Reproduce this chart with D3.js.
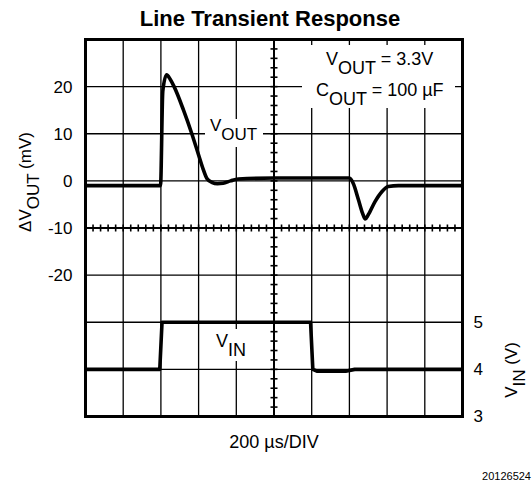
<!DOCTYPE html>
<html>
<head>
<meta charset="utf-8">
<script src="https://cdn.jsdelivr.net/npm/d3@7"></script>
<style>
  body { margin: 0; background: #fff; }
  svg { display: block; font-family: "Liberation Sans", Arial, sans-serif; }
</style>
</head>
<body>
<svg id="chart" width="532" height="483"></svg>
<script>
var voutX = [0, 1.99, 2.05, 2.15, 2.25, 2.35, 2.6, 2.82, 3.0, 3.12, 3.22, 3.35, 3.5, 3.65, 3.85, 4.05, 5.0, 7.0, 7.1, 7.24, 7.35, 7.42, 7.5, 7.68, 7.86, 8.03, 8.3, 10];
var voutY = [-1.0, -1.0, 19, 22.5, 21.5, 20, 15, 10, 5.5, 2.5, 0.5, -0.3, -0.6, -0.5, 0, 0.4, 0.6, 0.6, -0.5, -4, -6.9, -8.1, -7.2, -4.4, -2.3, -1.2, -1.0, -1.0];
var vinX = [0, 1.97, 2.03, 5.97, 6.03, 6.15, 6.9, 7.14, 10];
var vinY = [4.0, 4.0, 5.0, 5.0, 4.0, 3.96, 3.96, 4.0, 4.0];
var leftTicks = [-20, -10, 0, 10, 20];
var rightTicks = [3, 4, 5];

var svg = d3.select("#chart");
var L = 85.5, R = 462.5, T = 39.5, B = 416.5;

var x = d3.scaleLinear().domain([0, 10]).range([L, R]);
var yOut = d3.scaleLinear().domain([-50, 30]).range([B, T]);
var yIn = d3.scaleLinear().domain([3, 11]).range([B, T]);

// title
svg.append("text")
  .attr("x", 270).attr("y", 26)
  .attr("text-anchor", "middle")
  .attr("font-size", 22).attr("font-weight", "bold")
  .text("Line Transient Response");

// grid
var grid = svg.append("g").attr("stroke", "#000").attr("stroke-width", 1.3);
grid.selectAll("line.v").data(d3.range(1, 10)).enter().append("line")
  .attr("x1", function(d) { return x(d); }).attr("x2", function(d) { return x(d); })
  .attr("y1", T).attr("y2", B);
grid.selectAll("line.h").data(d3.range(-40, 30, 10)).enter().append("line")
  .attr("y1", function(d) { return yOut(d); }).attr("y2", function(d) { return yOut(d); })
  .attr("x1", L).attr("x2", R);

// center cross with minor ticks
var cx = x(5), cy = yOut(-10);
var cross = svg.append("g").attr("stroke", "#000");
cross.append("line").attr("x1", cx).attr("x2", cx).attr("y1", T).attr("y2", B).attr("stroke-width", 2);
cross.append("line").attr("x1", L).attr("x2", R).attr("y1", cy).attr("y2", cy).attr("stroke-width", 2);
cross.selectAll("line.tx").data(d3.range(1, 50)).enter().append("line")
  .attr("stroke-width", 1.6)
  .attr("x1", function(d) { return x(d / 5); }).attr("x2", function(d) { return x(d / 5); })
  .attr("y1", cy - 3.5).attr("y2", cy + 3.5);
cross.selectAll("line.ty").data(d3.range(1, 40)).enter().append("line")
  .attr("stroke-width", 1.6)
  .attr("y1", function(d) { return yOut(30 - d * 2); }).attr("y2", function(d) { return yOut(30 - d * 2); })
  .attr("x1", cx - 3.5).attr("x2", cx + 3.5);

// labels with white backing, they cut the grid
function label(g, px, py, main, sub, rest, size) {
  var t = g.append("text").attr("x", px).attr("y", py).attr("font-size", size);
  t.append("tspan").text(main);
  t.append("tspan").attr("dy", 9).text(sub);
  if (rest) t.append("tspan").attr("dy", -9).text(rest);
  return t;
}
var lab = svg.append("g");
lab.append("rect").attr("x", 302).attr("y", 45).attr("width", 153).attr("height", 63).attr("fill", "#fff");
lab.append("rect").attr("x", 205).attr("y", 119).attr("width", 58).attr("height", 28).attr("fill", "#fff");
lab.append("rect").attr("x", 212).attr("y", 329).attr("width", 38).attr("height", 32).attr("fill", "#fff");
label(lab, 326, 64.5, "V", "OUT", " = 3.3V", 18);
label(lab, 316, 95.5, "C", "OUT", " = 100 \u00b5F", 18);
label(lab, 210, 131, "V", "OUT", null, 17);
label(lab, 216, 347, "V", "IN", null, 18);

// traces
var line = d3.line().curve(d3.curveMonotoneX);
svg.append("path")
  .attr("d", line(voutX.map(function(d, i) { return [x(d), yOut(voutY[i])]; })))
  .attr("fill", "none").attr("stroke", "#000").attr("stroke-width", 3.6)
  .attr("stroke-linejoin", "round");
svg.append("path")
  .attr("d", d3.line()(vinX.map(function(d, i) { return [x(d), yIn(vinY[i])]; })))
  .attr("fill", "none").attr("stroke", "#000").attr("stroke-width", 3.6)
  .attr("stroke-linejoin", "round");

// frame
svg.append("rect").attr("x", L).attr("y", T).attr("width", R - L).attr("height", B - T)
  .attr("fill", "none").attr("stroke", "#000").attr("stroke-width", 3);

// axes
var ax = svg.append("g").attr("transform", "translate(" + (L - 10) + ",0)")
  .call(d3.axisLeft(yOut).tickValues(leftTicks).tickSize(0).tickPadding(3)
    .tickFormat(function(d) { return String(d); }));
ax.select(".domain").remove();
ax.selectAll("text").attr("font-size", 17).attr("font-family", null).attr("fill", "#000");

var ar = svg.append("g").attr("transform", "translate(" + (R + 8) + ",0)")
  .call(d3.axisRight(yIn).tickValues(rightTicks).tickSize(0).tickPadding(3)
    .tickFormat(function(d) { return String(d); }));
ar.select(".domain").remove();
ar.selectAll("text").attr("font-size", 17).attr("font-family", null).attr("fill", "#000");

// axis titles
var yl = svg.append("text").attr("transform", "translate(31,182) rotate(-90)")
  .attr("text-anchor", "middle").attr("font-size", 17);
yl.append("tspan").text("\u0394V");
yl.append("tspan").attr("dy", 8).text("OUT");
yl.append("tspan").attr("dy", -8).text(" (mV)");

var yr = svg.append("text").attr("transform", "translate(517,370) rotate(-90)")
  .attr("text-anchor", "middle").attr("font-size", 17);
yr.append("tspan").text("V");
yr.append("tspan").attr("dy", 8).text("IN");
yr.append("tspan").attr("dy", -8).text(" (V)");

svg.append("text").attr("x", 274).attr("y", 448).attr("text-anchor", "middle")
  .attr("font-size", 18).text("200 \u00b5s/DIV");

svg.append("text").attr("x", 531).attr("y", 480).attr("text-anchor", "end")
  .attr("font-size", 11).text("20126524");
</script>
</body>
</html>
